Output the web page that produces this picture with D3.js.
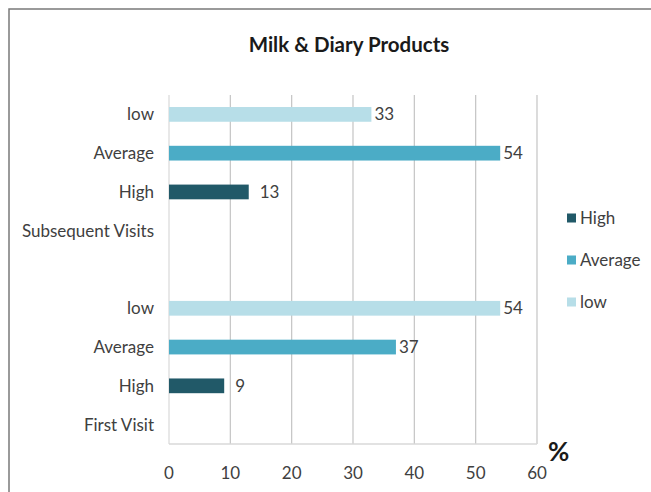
<!DOCTYPE html>
<html>
<head>
<meta charset="utf-8">
<script src="https://cdn.jsdelivr.net/npm/d3@7"></script>
<style>
  body { margin: 0; background: #fff; }
  text { font-family: Lato, "Open Sans", sans-serif; fill: #404040; }
</style>
</head>
<body>
<svg width="651" height="492"></svg>
<script>
var svg = d3.select("svg"),
    width = +svg.attr("width"),
    height = +svg.attr("height");

// groups, bottom to top, with an empty gap row between them
var groups = ["First Visit", "Subsequent Visits"];
var series = ["High", "Average", "low"];
var firstVisit = [9, 37, 54];        // High, Average, low
var subsequentVisits = [13, 54, 33]; // High, Average, low
var xTicks = [0, 10, 20, 30, 40, 50, 60];

var colors = { "High": "#215968", "Average": "#4bacc6", "low": "#b7dee8" };

// build rows bottom -> top
var rows = [];
rows.push({ key: "g0", label: groups[0] });
series.forEach(function(s, i) { rows.push({ key: "g0" + s, label: s, series: s, value: firstVisit[i] }); });
rows.push({ key: "gap", label: "" });
rows.push({ key: "g1", label: groups[1] });
series.forEach(function(s, i) { rows.push({ key: "g1" + s, label: s, series: s, value: subsequentVisits[i] }); });

var x = d3.scaleLinear().domain([0, 60]).range([169, 537]);
var y = d3.scaleBand()
    .domain(rows.map(function(d) { return d.key; }).reverse())
    .range([95, 444])
    .paddingInner(0.62)
    .paddingOuter(0.31);

// outer frame (runs off the right/bottom edge)
svg.append("path")
    .attr("d", "M9," + height + "V9H" + width)
    .attr("fill", "none")
    .attr("stroke", "#7a7a7a")
    .attr("stroke-width", 1.5);

svg.append("text")
    .attr("x", 349)
    .attr("y", 52)
    .attr("text-anchor", "middle")
    .style("font-size", "20.5px")
    .style("font-weight", "bold")
    .style("fill", "#1a1a1a")
    .text("Milk & Diary Products");

// gridlines
svg.append("g").selectAll("line")
    .data(xTicks)
    .enter().append("line")
      .attr("x1", function(d) { return x(d); })
      .attr("x2", function(d) { return x(d); })
      .attr("y1", 95)
      .attr("y2", 444)
      .attr("stroke", function(d) { return d === 0 ? "#d9d9d9" : "#c4c4c4"; })
      .attr("stroke-width", 1.2);

svg.append("line")
    .attr("x1", x(0)).attr("x2", x(60))
    .attr("y1", 444).attr("y2", 444)
    .attr("stroke", "#d9d9d9")
    .attr("stroke-width", 1.5);

// x tick labels
svg.append("g").selectAll("text")
    .data(xTicks)
    .enter().append("text")
      .attr("x", function(d) { return x(d); })
      .attr("y", 479)
      .attr("text-anchor", "middle")
      .style("font-size", "17px")
      .text(function(d) { return d; });

svg.append("text")
    .attr("x", 548)
    .attr("y", 461)
    .style("font-size", "26px")
    .style("font-weight", "bold")
    .style("fill", "#1a1a1a")
    .text("%");

// category labels
svg.append("g").selectAll("text")
    .data(rows)
    .enter().append("text")
      .attr("x", 154)
      .attr("y", function(d) { return y(d.key) + y.bandwidth() / 2; })
      .attr("dy", "0.35em")
      .attr("text-anchor", "end")
      .style("font-size", "17px")
      .text(function(d) { return d.label; });

var bars = rows.filter(function(d) { return d.series; });

svg.append("g").selectAll("rect")
    .data(bars)
    .enter().append("rect")
      .attr("x", x(0))
      .attr("y", function(d) { return y(d.key); })
      .attr("width", function(d) { return x(d.value) - x(0); })
      .attr("height", y.bandwidth())
      .attr("fill", function(d) { return colors[d.series]; });

svg.append("g").selectAll("text")
    .data(bars)
    .enter().append("text")
      .attr("x", function(d) { return x(d.value) + (d.series === "High" ? 11 : 3); })
      .attr("y", function(d) { return y(d.key) + y.bandwidth() / 2; })
      .attr("dy", "0.35em")
      .style("font-size", "17px")
      .text(function(d) { return d.value; });

// legend
var legend = svg.selectAll(".legend")
    .data(series)
    .enter().append("g")
      .attr("class", "legend")
      .attr("transform", function(d, i) { return "translate(567," + (218 + i * 42) + ")"; });

legend.append("rect")
    .attr("x", 0)
    .attr("y", -4.5)
    .attr("width", 9)
    .attr("height", 9)
    .style("fill", function(d) { return colors[d]; });

legend.append("text")
    .attr("x", 13)
    .attr("y", 0)
    .attr("dy", "0.35em")
    .style("font-size", "17px")
    .text(function(d) { return d; });
</script>
</body>
</html>
